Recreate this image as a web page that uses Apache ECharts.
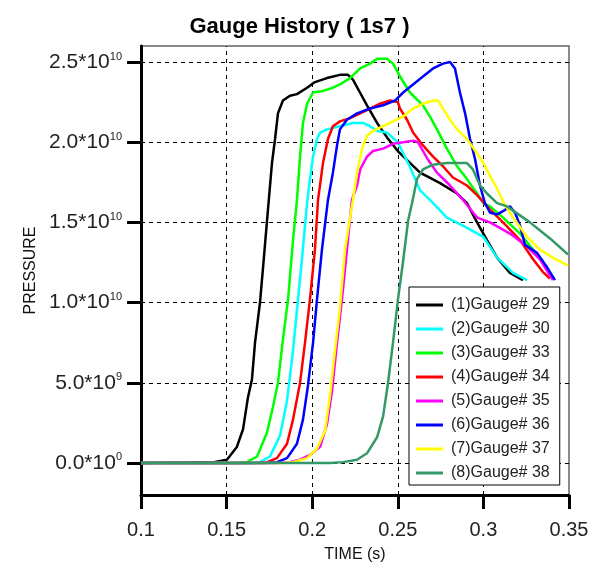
<!DOCTYPE html>
<html>
<head>
<meta charset="utf-8">
<script src="https://cdn.jsdelivr.net/npm/echarts@6/dist/echarts.min.js"></script>
<style>html,body{margin:0;padding:0;background:#fff;}#c{width:599px;height:563px;}</style>
</head>
<body>
<div id="c"></div>
<script>
// Tick values
const xTicks = [0.1, 0.15, 0.2, 0.25, 0.3, 0.35];
const yTicks = [0, 5e9, 1e10, 1.5e10, 2e10, 2.5e10];
const names = ['(1)Gauge# 29','(2)Gauge# 30','(3)Gauge# 33','(4)Gauge# 34','(5)Gauge# 35','(6)Gauge# 36','(7)Gauge# 37','(8)Gauge# 38'];
// [time (s), pressure (x1e10)]
const g29 = [[0.1,0],[0.1432,0.006],[0.1502,0.02],[0.156,0.10],[0.1596,0.21],[0.1625,0.41],[0.1648,0.52],[0.1666,0.75],[0.1695,1.0],[0.1713,1.22],[0.1736,1.51],[0.1765,1.87],[0.1783,2.02],[0.18,2.18],[0.1829,2.26],[0.187,2.29],[0.1911,2.30],[0.197,2.34],[0.2016,2.375],[0.2086,2.40],[0.2162,2.42],[0.2209,2.42],[0.2238,2.39],[0.2279,2.31],[0.232,2.23],[0.2379,2.12],[0.2437,2.03],[0.25,1.945],[0.263,1.81],[0.2747,1.745],[0.2846,1.68],[0.2904,1.62],[0.2963,1.50],[0.3021,1.39],[0.308,1.28],[0.3155,1.185],[0.3231,1.14]];
const g30 = [[0.1,0],[0.1637,0],[0.1695,0.005],[0.1753,0.04],[0.1812,0.17],[0.1853,0.39],[0.1888,0.70],[0.1917,1.02],[0.194,1.27],[0.197,1.62],[0.1987,1.77],[0.2005,1.91],[0.2028,2.02],[0.2046,2.06],[0.2086,2.08],[0.2162,2.10],[0.2238,2.12],[0.2297,2.12],[0.2338,2.10],[0.2379,2.07],[0.2437,2.06],[0.25,2.0],[0.2571,1.845],[0.263,1.70],[0.2688,1.64],[0.2787,1.53],[0.288,1.48],[0.3,1.41],[0.308,1.28],[0.3173,1.185],[0.3255,1.14]];
const g33 = [[0.1,0],[0.155,0],[0.1619,0.005],[0.1678,0.04],[0.1736,0.19],[0.1771,0.35],[0.18,0.5],[0.1829,0.77],[0.1859,1.02],[0.1888,1.39],[0.1911,1.64],[0.1929,1.91],[0.1946,2.12],[0.197,2.24],[0.2005,2.31],[0.2063,2.32],[0.2121,2.34],[0.2162,2.36],[0.2221,2.40],[0.228,2.46],[0.2338,2.49],[0.2379,2.52],[0.2437,2.52],[0.2472,2.49],[0.2513,2.41],[0.2571,2.31],[0.2647,2.23],[0.2688,2.16],[0.2729,2.08],[0.2787,1.96],[0.2846,1.85],[0.2904,1.77],[0.2963,1.68],[0.3,1.62],[0.3039,1.60],[0.3115,1.53],[0.3214,1.43],[0.329,1.33],[0.3348,1.25]];
const g34 = [[0.1,0],[0.1666,0],[0.1736,0.005],[0.1794,0.03],[0.1853,0.12],[0.1888,0.27],[0.1929,0.5],[0.1958,0.75],[0.1987,1.02],[0.2016,1.33],[0.2034,1.64],[0.2063,1.87],[0.2092,2.02],[0.2121,2.10],[0.2162,2.13],[0.2221,2.15],[0.228,2.18],[0.2338,2.21],[0.2396,2.24],[0.2455,2.26],[0.25,2.25],[0.2513,2.21],[0.2554,2.14],[0.2589,2.06],[0.2647,1.98],[0.2706,1.91],[0.2764,1.85],[0.2822,1.78],[0.2904,1.73],[0.2963,1.67],[0.3039,1.58],[0.3115,1.50],[0.3214,1.39],[0.329,1.27],[0.3348,1.19],[0.3389,1.15]];
const g35 = [[0.1,0],[0.1783,0],[0.187,0.005],[0.1929,0.02],[0.1987,0.05],[0.2046,0.10],[0.2086,0.24],[0.2116,0.45],[0.2145,0.75],[0.2174,1.02],[0.2203,1.33],[0.2232,1.64],[0.2262,1.73],[0.228,1.83],[0.232,1.91],[0.2355,1.945],[0.2414,1.96],[0.2472,1.99],[0.2531,2.0],[0.2589,2.01],[0.2618,2.0],[0.2671,1.90],[0.2729,1.81],[0.2805,1.73],[0.2881,1.64],[0.2963,1.53],[0.3039,1.50],[0.3155,1.43],[0.3255,1.35],[0.333,1.27],[0.3406,1.14]];
const g36 = [[0.1,0],[0.1724,0],[0.1794,0.005],[0.1853,0.03],[0.1911,0.12],[0.1946,0.27],[0.1975,0.48],[0.2005,0.75],[0.2028,1.02],[0.2057,1.33],[0.2092,1.64],[0.2121,1.81],[0.2145,1.98],[0.2162,2.08],[0.2203,2.14],[0.2262,2.18],[0.2338,2.21],[0.2414,2.23],[0.2484,2.26],[0.2531,2.31],[0.2589,2.36],[0.2647,2.41],[0.2706,2.46],[0.2764,2.49],[0.2805,2.50],[0.2834,2.46],[0.2863,2.31],[0.2893,2.18],[0.2922,2.02],[0.2951,1.895],[0.298,1.73],[0.3009,1.62],[0.3039,1.56],[0.308,1.55],[0.3115,1.57],[0.3155,1.60],[0.3185,1.56],[0.3214,1.48],[0.3243,1.36],[0.3313,1.31],[0.3372,1.22],[0.3418,1.14]];
const g37 = [[0.1,0],[0.1812,0],[0.1888,0.005],[0.197,0.03],[0.2028,0.09],[0.2075,0.20],[0.2104,0.42],[0.2133,0.70],[0.2162,0.97],[0.2192,1.33],[0.2221,1.53],[0.2238,1.64],[0.2262,1.81],[0.2291,1.96],[0.232,2.04],[0.2355,2.07],[0.2414,2.10],[0.2472,2.13],[0.2531,2.16],[0.2589,2.21],[0.2647,2.24],[0.2706,2.26],[0.2735,2.26],[0.2764,2.21],[0.2805,2.14],[0.2846,2.08],[0.2904,2.02],[0.2963,1.93],[0.3,1.87],[0.3039,1.79],[0.308,1.71],[0.3115,1.63],[0.3173,1.53],[0.3255,1.41],[0.333,1.33],[0.3406,1.28],[0.3494,1.23]];
const g38 = [[0.1,0],[0.2104,0],[0.218,0.005],[0.2262,0.02],[0.232,0.06],[0.2379,0.16],[0.2414,0.29],[0.2443,0.5],[0.2472,0.75],[0.2501,1.02],[0.253,1.25],[0.256,1.51],[0.2583,1.62],[0.2612,1.77],[0.2647,1.83],[0.2706,1.86],[0.2787,1.87],[0.2904,1.87],[0.2939,1.83],[0.298,1.73],[0.3021,1.68],[0.308,1.62],[0.3138,1.60],[0.3272,1.50],[0.3389,1.40],[0.3494,1.30]];
const allData = [g29, g30, g33, g34, g35, g36, g37, g38];
const colors = ['#000000','#00ffff','#00ff00','#ff0000','#ff00ff','#0000ff','#ffff00','#339966'];

const FONT = 'Liberation Sans, Arial, sans-serif';
function yFmt(v){
  if (v === 0) return '{b|0.0*10}{s|0}';
  const e = Math.floor(Math.log10(v) + 1e-9);
  const m = (v / Math.pow(10, e)).toFixed(1);
  return '{b|' + m + '*10}{s|' + e + '}';
}
const dashStyle = {type: [4, 4], color: '#000', width: 1};
const series = allData.map((d, i) => ({
  name: names[i], type: 'line', symbol: 'none', showSymbol: false, smooth: false, z: 3,
  data: d.map(p => [p[0], p[1] * 1e10]),
  lineStyle: {color: colors[i], width: 2.5}, itemStyle: {color: colors[i]}
}));
series.unshift({
  name: 'grid', type: 'line', data: [], z: 1, silent: true,
  markLine: {
    silent: true, symbol: ['none','none'], label: {show: false}, animation: false, z: 1,
    lineStyle: dashStyle,
    data: yTicks.map(v => ({yAxis: v})).concat(xTicks.slice(1, -1).map(v => ({xAxis: v})))
  }
});

const chart = echarts.init(document.getElementById('c'), null, {renderer: 'canvas'});
chart.setOption({
  animation: false,
  backgroundColor: '#fff',
  title: {text: 'Gauge History ( 1s7 )', left: 'center', top: 11,
    textStyle: {fontFamily: FONT, fontSize: 22, fontWeight: 'bold', color: '#000'}},
  grid: {left: 141, right: 30, top: 46, bottom: 68, outerBoundsMode: 'none', containLabel: false,
    show: true, borderColor: '#666', borderWidth: 1.5, backgroundColor: 'transparent'},
  legend: {
    data: names, orient: 'vertical', left: 409, top: 287, z: 20,
    icon: 'path://M0,0 L27,0 L27,3 L0,3 Z',
    backgroundColor: '#fff', borderColor: '#000', borderWidth: 1, borderRadius: 0,
    padding: [10, 10, 4, 7], itemWidth: 27, itemHeight: 14, itemGap: 8,
    textStyle: {fontFamily: FONT, fontSize: 16, color: '#222', padding: [0, 0, 0, 3]}
  },
  xAxis: {
    type: 'value', min: 0.1, max: 0.35, interval: 0.05,
    name: 'TIME (s)', nameLocation: 'middle', nameGap: 52,
    nameTextStyle: {fontFamily: FONT, fontSize: 16, color: '#111'},
    axisLine: {show: true, onZero: false, lineStyle: {color: '#000', width: 3}},
    axisTick: {show: true, inside: false, length: 14, lineStyle: {color: '#000', width: 3}},
    axisLabel: {margin: 25, fontFamily: FONT, fontSize: 20, color: '#222',
      formatter: v => String(+(+v).toFixed(2))},
    splitLine: {show: false}
  },
  yAxis: {
    type: 'value', min: -2e9, max: 2.6e10,
    name: 'PRESSURE', nameLocation: 'middle', nameGap: 100, nameRotate: 90,
    nameTextStyle: {fontFamily: FONT, fontSize: 16, color: '#111'},
    axisLine: {show: true, onZero: false, lineStyle: {color: '#000', width: 3}},
    axisTick: {show: true, inside: false, length: 14, customValues: yTicks, lineStyle: {color: '#000', width: 3}},
    axisLabel: {margin: 19, customValues: yTicks, formatter: yFmt,
      rich: {
        b: {fontFamily: FONT, fontSize: 21, color: '#222', lineHeight: 22},
        s: {fontFamily: FONT, fontSize: 11, color: '#222', lineHeight: 11, verticalAlign: 'top'}
      }},
    splitLine: {show: false}
  },
  series: series
});
</script>
</body>
</html>
